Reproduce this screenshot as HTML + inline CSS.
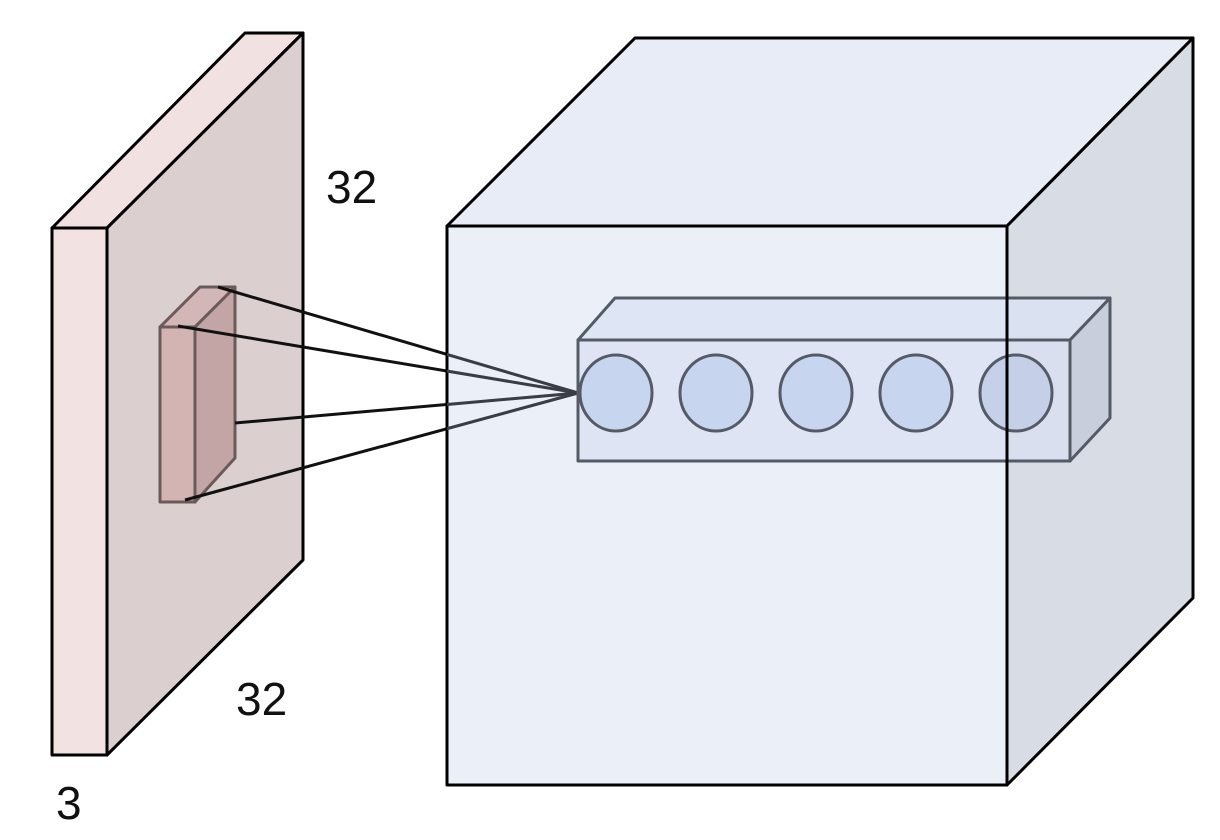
<!DOCTYPE html>
<html><head><style>
html,body{margin:0;padding:0;background:#fff;}
svg{display:block;}
text{font-family:"Liberation Sans",sans-serif;fill:#111;}
</style></head><body>
<svg width="1220" height="840" viewBox="0 0 1220 840">
<defs>
<clipPath id="inCube"><rect x="447" y="226" width="560" height="559"/></clipPath>
</defs>
<!-- input slab -->
<g stroke="#000" stroke-width="3" stroke-linejoin="round">
<polygon points="52,228 107,228 303,33 245,33" fill="#f1e1e0"/>
<polygon points="107,228 303,33 303,560 107,755" fill="#dccfcf"/>
<rect x="52" y="228" width="55" height="527" fill="#f2e2e1"/>
</g>
<!-- filter -->
<g stroke="#6b5a5a" stroke-width="3" stroke-linejoin="round">
<polygon points="160,327 200,287 235,287 195,327" fill="#d3b7b7"/>
<polygon points="195,327 235,287 235,458 195,502" fill="#c4a5a6"/>
<rect x="160" y="327" width="35" height="175" fill="#d4b3b3"/>
</g>
<g stroke="#111" stroke-width="3">
<line x1="218" y1="287" x2="578" y2="393"/>
<line x1="178" y1="326" x2="578" y2="393"/>
<line x1="235" y1="423" x2="578" y2="393"/>
<line x1="185" y1="500" x2="578" y2="393"/>
</g>
<!-- big cube -->
<g stroke="#000" stroke-width="3" stroke-linejoin="round">
<polygon points="447,226 1007,226 1193,38 635,38" fill="#e6eaf6" fill-opacity="0.92"/>
<polygon points="1007,226 1193,38 1193,598 1007,785" fill="#d5d9e2" fill-opacity="0.92"/>
<rect x="447" y="226" width="560" height="559" fill="#e8ecf7" fill-opacity="0.85"/>
</g>
<g stroke="#3a3d44" stroke-width="3" clip-path="url(#inCube)">
<line x1="218" y1="287" x2="578" y2="393"/>
<line x1="178" y1="326" x2="578" y2="393"/>
<line x1="235" y1="423" x2="578" y2="393"/>
<line x1="185" y1="500" x2="578" y2="393"/>
</g>
<!-- column -->
<g stroke="#555b66" stroke-width="3" stroke-linejoin="round">
<polygon points="578,340 615,298 1110,298 1070,340" fill="#dbe2f2" fill-opacity="0.8"/>
<polygon points="1070,340 1110,298 1110,418 1070,461" fill="#c5cbd9" fill-opacity="0.85"/>
<rect x="578" y="340" width="492" height="121" fill="#d9e0f1" fill-opacity="0.75"/>
<ellipse cx="616" cy="393" rx="36" ry="38" fill="#c8d5ee"/>
<ellipse cx="716" cy="393" rx="36" ry="38" fill="#c8d5ee"/>
<ellipse cx="816" cy="393" rx="36" ry="38" fill="#c8d5ee"/>
<ellipse cx="916" cy="393" rx="36" ry="38" fill="#c8d5ee"/>
<ellipse cx="1016" cy="393" rx="36" ry="38" fill="#c1cde6" fill-opacity="0.85"/>
</g>
<line x1="1007" y1="226" x2="1007" y2="785" stroke="#000" stroke-width="3"/>
<text x="326" y="203" font-size="46">32</text>
<text x="236" y="715" font-size="46">32</text>
<text x="56" y="819" font-size="46">3</text>
</svg>
</body></html>
